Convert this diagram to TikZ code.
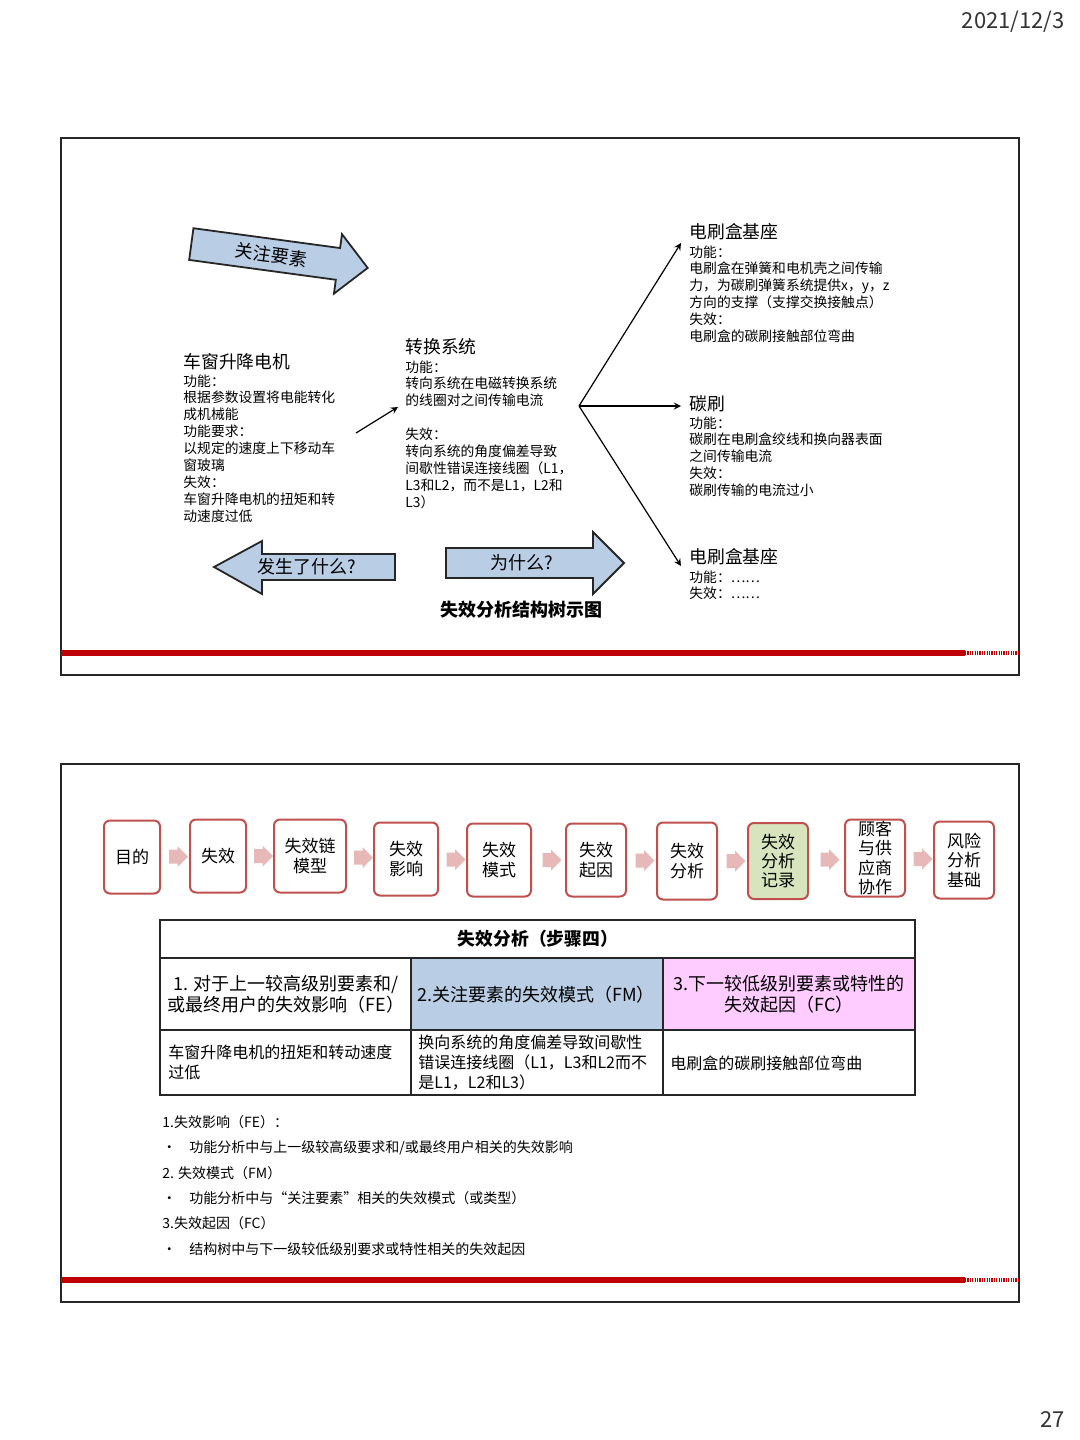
\documentclass[tikz,border=0pt]{standalone}
\usepackage{fontspec}
\setmainfont{Noto Sans CJK SC}
\usepackage{tikz}
\usetikzlibrary{calc}
\usetikzlibrary{shapes.arrows}
\definecolor{arrowblue}{HTML}{B9CDE5}
\definecolor{boxred}{HTML}{C0504D}
\definecolor{arrowpink}{HTML}{E6B9B8}
\definecolor{recgreen}{HTML}{D7E4BD}
\definecolor{cellpink}{HTML}{FFCCFF}
\definecolor{barred}{HTML}{C00000}
\tikzset{
  slideline/.style={draw=black!85, line width=1pt},
  redrule/.style={draw=barred, line width=3pt},
  bluearrow/.style={draw=black!85, line width=0.9pt, fill=arrowblue},
  arrowtext/.style={inner sep=0, font=\fontsize{9}{10}\selectfont},
  title/.style={anchor=north west, inner sep=0, font=\fontsize{8.9}{10}\selectfont},
  body/.style={anchor=north west, inner sep=0, align=left, font=\fontsize{6.9}{8.45}\selectfont},
  stepbox/.style={draw=boxred, line width=1pt, rounded corners=3pt, inner sep=0, align=center, font=\fontsize{8.5}{9.7}\selectfont},
  pinkarrow/.style={single arrow, fill=arrowpink, draw=none, inner xsep=0, inner ysep=3.3pt, minimum height=9.5pt, single arrow head extend=1.7pt},
  tblline/.style={draw=black!85, line width=0.8pt},
  cell/.style={inner sep=0, align=center, font=\fontsize{9}{10.5}\selectfont},
  celltxt/.style={anchor=north west, inner sep=0, align=left, font=\fontsize{8}{9.9}\selectfont},
  notes/.style={anchor=north west, inner sep=0, align=left, font=\fontsize{7}{12.7}\selectfont}
}
\newcommand{\slidebox}[4]{ \draw[slideline] ( #1 , #2 ) rectangle ( #3 , #4 );}
\newcommand{\redrule}[3]{ \draw[redrule] ( #1 , #3 ) -- ( #2 , #3 ); \draw[redrule, line width=2.4pt, dash pattern=on 0.6pt off 0.6pt] ( #2 , #3 ) -- ( 1018 , #3 );}
\newcommand{\flowstep}[7]{\node[stepbox, fill=#6, minimum width=#4, minimum height=#5] (#1) at ( #2 , #3 ) {#7};}
\newcommand{\flowarrow}[3]{\node[pinkarrow] (#1) at ($(#2.east)!0.5!(#3.west)$) {};}

\begin{document}
\begin{tikzpicture}[x=0.5pt, y=-0.5pt, >=stealth]
\useasboundingbox[fill=white] (0,0) rectangle (1080,1440);
% date and page number
\node[anchor=east, inner sep=0, font=\fontsize{11}{12}\selectfont, text=black!80] (date) at (1065,22) {2021/12/3};
\node[anchor=east, inner sep=0, font=\fontsize{11}{12}\selectfont, text=black!80] (pageno) at (1065,1419) {27};

% slide 1: structure tree
\slidebox{61}{138}{1019}{675}
\redrule{61}{965}{653}
% focus arrow
\begin{scope}[shift={(279.5,256)}, rotate=-7.7]
\draw[bluearrow] (-89,-16) -- (59,-16) -- (59,-30) -- (89,0) -- (59,30) -- (59,16) -- (-89,16) -- cycle;
\node[arrowtext, rotate=-7.7] (focus) at (-8,0) {关注要素};
\end{scope}
% higher level element
\node[title] (motor) at (183,353) {车窗升降电机};
\node[body] (motortxt) at (183,374) {功能：\\根据参数设置将电能转化\\成机械能\\功能要求：\\以规定的速度上下移动车\\窗玻璃\\失效：\\车窗升降电机的扭矩和转\\动速度过低};
% focus element
\node[title] (conv) at (405,338) {转换系统};
\node[body] (convtxt) at (405,360) {功能：\\转向系统在电磁转换系统\\的线圈对之间传输电流\\[8.45pt]失效：\\转向系统的角度偏差导致\\间歇性错误连接线圈（L1，\\L3和L2，而不是L1，L2和\\L3）};
\coordinate (m1) at (356,433);
\coordinate (m2) at (398,407);
\draw[->, line width=0.6pt] (m1) -- (m2);
% lower level elements
\node[title] (holder) at (689,223) {电刷盒基座};
\node[body] (holdertxt) at (689,245) {功能：\\电刷盒在弹簧和电机壳之间传输\\力，为碳刷弹簧系统提供x，y，z\\方向的支撑（支撑交换接触点）\\失效：\\电刷盒的碳刷接触部位弯曲};
\node[title] (brush) at (689,395) {碳刷};
\node[body] (brushtxt) at (689,416) {功能：\\碳刷在电刷盒绞线和换向器表面\\之间传输电流\\失效：\\碳刷传输的电流过小};
\node[title] (holdertwo) at (689,548) {电刷盒基座};
\node[body] (holdertwotxt) at (689,570) {功能：……\\失效：……};
\coordinate (fork) at (579,406);
\coordinate (tipa) at (681,243);
\coordinate (tipb) at (681,406);
\coordinate (tipc) at (681,566);
\draw[->, line width=0.6pt] (fork) -- (tipa);
\draw[->, line width=0.6pt] (fork) -- (tipb);
\draw[->, line width=0.6pt] (fork) -- (tipc);
% what / why arrows
\draw[bluearrow] (395,554) -- (262,554) -- (262,541) -- (214,567) -- (262,594) -- (262,580) -- (395,580) -- cycle;
\node[arrowtext] (what) at (307,567) {发生了什么?};
\draw[bluearrow] (446,548) -- (593,548) -- (593,532) -- (624,563) -- (593,594) -- (593,578) -- (446,578) -- cycle;
\node[arrowtext] (why) at (522,563) {为什么?};
\node[inner sep=0, font=\bfseries\fontsize{9}{10}\selectfont] (treetitle) at (521,610) {失效分析结构树示图};

% slide 2: failure analysis
\slidebox{61}{764}{1019}{1302}
\redrule{61}{965}{1280}
% row of steps
\flowstep{s1}{132}{857}{28pt}{36.5pt}{white}{目的}
\flowstep{s2}{218}{856}{28pt}{36.5pt}{white}{失效}
\flowstep{s3}{310}{856}{36pt}{36.5pt}{white}{失效链\\模型}
\flowstep{s4}{406}{859}{32pt}{36.5pt}{white}{失效\\影响}
\flowstep{s5}{499}{860}{32pt}{36.5pt}{white}{失效\\模式}
\flowstep{s6}{596}{860}{30pt}{36.5pt}{white}{失效\\起因}
\flowstep{s7}{687}{861}{30pt}{38.5pt}{white}{失效\\分析}
\flowstep{s8}{778}{861}{30pt}{38pt}{recgreen}{失效\\分析\\记录}
\flowstep{s9}{875}{858}{30pt}{38.5pt}{white}{顾客\\与供\\应商\\协作}
\flowstep{s10}{964}{860}{30pt}{38.5pt}{white}{风险\\分析\\基础}
% arrows between steps
\flowarrow{f1}{s1}{s2}
\flowarrow{f2}{s2}{s3}
\flowarrow{f3}{s3}{s4}
\flowarrow{f4}{s4}{s5}
\flowarrow{f5}{s5}{s6}
\flowarrow{f6}{s6}{s7}
\flowarrow{f7}{s7}{s8}
\flowarrow{f8}{s8}{s9}
\flowarrow{f9}{s9}{s10}
% table
\fill[arrowblue] (411,958) rectangle (663,1030);
\fill[cellpink] (663,958) rectangle (915,1030);
\draw[tblline] (160,920) rectangle (915,1095);
\draw[tblline] (160,958) -- (915,958);
\draw[tblline] (160,1030) -- (915,1030);
\draw[tblline] (411,958) -- (411,1095);
\draw[tblline] (663,958) -- (663,1095);
\node[cell, font=\bfseries\fontsize{8.9}{10}\selectfont] (thead) at (538,939) {失效分析（步骤四）};
\node[cell] (fe) at (286,994.5) {1. 对于上一较高级别要素和/\\或最终用户的失效影响（FE）};
\node[cell] (fm) at (536,995) {2.关注要素的失效模式（FM）};
\node[cell] (fc) at (789,994.5) {3.下一较低级别要素或特性的\\失效起因（FC）};
\node[celltxt] (fetxt) at (168,1045) {车窗升降电机的扭矩和转动速度\\过低};
\node[celltxt] (fmtxt) at (418,1035) {换向系统的角度偏差导致间歇性\\错误连接线圈（L1，L3和L2而不\\是L1，L2和L3）};
\node[celltxt, anchor=west] (fctxt) at (670,1063) {电刷盒的碳刷接触部位弯曲};
% notes
\node[notes] (notes) at (162,1115) {1.失效影响（FE）：\\\makebox[13.5pt][l]{•}功能分析中与上一级较高级要求和/或最终用户相关的失效影响\\2. 失效模式（FM）\\\makebox[13.5pt][l]{•}功能分析中与“关注要素”相关的失效模式（或类型）\\3.失效起因（FC）\\\makebox[13.5pt][l]{•}结构树中与下一级较低级别要求或特性相关的失效起因};
\end{tikzpicture}
\end{document}
